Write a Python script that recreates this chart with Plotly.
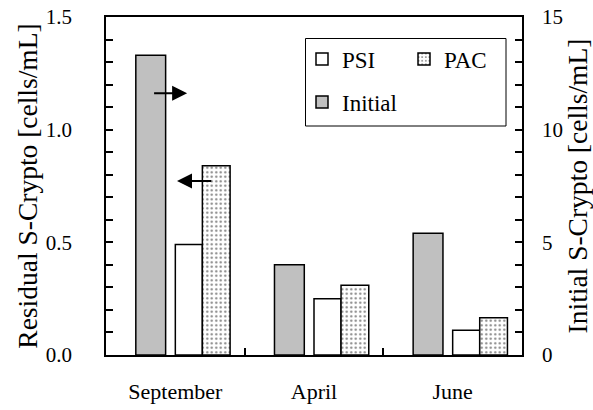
import plotly.graph_objects as go

months = ["September", "April", "June"]
psi = [0.49, 0.25, 0.11]
pac = [0.84, 0.31, 0.165]
initial = [13.3, 4.0, 5.4]

FONT = "Liberation Serif"
BLACK = "#000000"

def f(size):
    return dict(family=FONT, size=size, color=BLACK)

fig = go.Figure()

fig.add_trace(go.Bar(
    x=months, y=initial, name="Initial", yaxis="y2",
    marker=dict(color="#c0c0c0", line=dict(color=BLACK, width=1.5)),
    width=0.215, offset=-0.285, legend="legend2",
))
fig.add_trace(go.Bar(
    x=months, y=psi, name="PSI",
    marker=dict(color="white", line=dict(color=BLACK, width=1.5)),
    width=0.195, offset=0.0, legend="legend",
))
fig.add_trace(go.Bar(
    x=months, y=pac, name="PAC",
    marker=dict(color="white", line=dict(color=BLACK, width=1.5),
                pattern=dict(shape=".", fgcolor=BLACK, bgcolor="white", size=4.5, solidity=0.2)),
    width=0.2, offset=0.195, legend="legend",
))

L, R, T, B = 106, 71, 17, 55
W, H = 593, 410
pw, ph = W - L - R, H - T - B

def px2paper(x, y):
    return (x - L) / pw, (H - B - y) / ph

lx, ly = px2paper(302, 59)
l2x, l2y = px2paper(302, 102)
bx0, by0 = px2paper(305.5, 126)
bx1, by1 = px2paper(506, 38.5)

TICK = dict(ticks="inside", ticklen=7, tickcolor="black", tickwidth=1.5)

fig.update_layout(
    width=W, height=H,
    margin=dict(l=L, r=R, t=T, b=B, autoexpand=False),
    paper_bgcolor="white", plot_bgcolor="white",
    font=f(21),
    barmode="overlay",
    showlegend=True,
    legend=dict(orientation="h", x=lx, y=ly, xanchor="left", yanchor="middle",
                font=f(23), entrywidth=57, bgcolor="rgba(0,0,0,0)",
                traceorder="normal"),
    legend2=dict(orientation="h", x=l2x, y=l2y, xanchor="left", yanchor="middle",
                 font=f(23), bgcolor="rgba(0,0,0,0)"),
    xaxis=dict(
        automargin=False,
        showline=True, linecolor=BLACK, linewidth=1.5, mirror=True,
        tickson="boundaries", **TICK,
        tickfont=f(22), ticklabelstandoff=16,
        showgrid=False, zeroline=False, layer="above traces",
    ),
    yaxis=dict(
        automargin=False,
        range=[0, 1.5], dtick=0.5, tick0=0, tickformat=".1f",
        showline=True, linecolor=BLACK, linewidth=1.5, mirror=True,
        **TICK,
        minor=dict(dtick=0.1, showgrid=False, **TICK),
        tickfont=f(21),
        showgrid=False, zeroline=False, ticklabelstandoff=28, layer="above traces",
        title=dict(text="Residual S-Crypto [cells/mL]", font=f(27.5), standoff=0),
    ),
    yaxis2=dict(
        automargin=False,
        range=[0, 15], dtick=5, tick0=0, overlaying="y", side="right",
        showline=True, linecolor=BLACK, linewidth=1.5,
        **TICK,
        minor=dict(dtick=1, showgrid=False, **TICK),
        tickfont=f(21),
        showgrid=False, zeroline=False, ticklabelstandoff=14, layer="above traces",
        title=dict(text="Initial S-Crypto [cells/mL]", font=f(27.5), standoff=4),
    ),
    shapes=[dict(type="rect", xref="paper", yref="paper", x0=bx0, x1=bx1, y0=by0, y1=by1,
                 line=dict(color=BLACK, width=1), fillcolor="rgba(0,0,0,0)", layer="above")],
    annotations=[
        dict(x=0.085, y=1.162, ax=-0.164, ay=1.162, xref="x", yref="y", axref="x", ayref="y",
             text="", showarrow=True, arrowhead=2, arrowsize=1.5, arrowwidth=2, arrowcolor=BLACK),
        dict(x=0.012, y=0.772, ax=0.27, ay=0.772, xref="x", yref="y", axref="x", ayref="y",
             text="", showarrow=True, arrowhead=2, arrowsize=1.5, arrowwidth=2, arrowcolor=BLACK),
    ],
)

fig.write_html("out.html")
